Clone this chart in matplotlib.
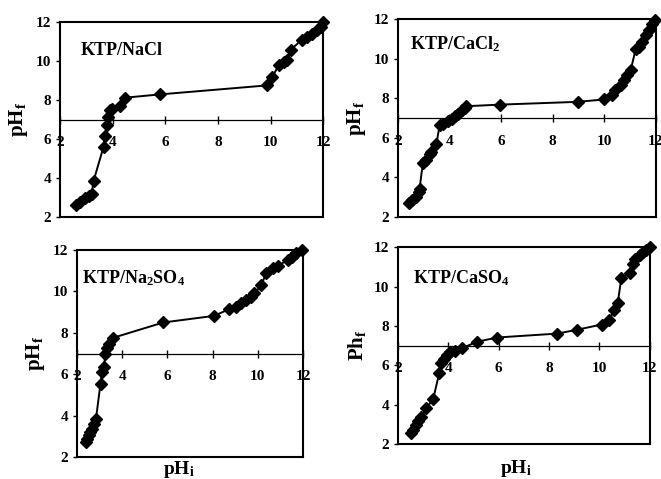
import numpy as np
import matplotlib.pyplot as plt

plt.rcParams['font.family'] = ['Liberation Serif', 'DejaVu Serif']
plt.rcParams['font.weight'] = 'bold'
plt.rcParams['mathtext.fontset'] = 'custom'
plt.rcParams['mathtext.rm'] = 'Liberation Serif:bold'
plt.rcParams['mathtext.it'] = 'Liberation Serif:bold:italic'
plt.rcParams['mathtext.bf'] = 'Liberation Serif:bold'

# KTP/NaCl
nacl_phi = [2.61, 2.76, 2.95, 3.08, 3.2, 3.27, 3.65, 3.69, 3.78, 3.81, 3.88, 3.97, 4.28, 4.47,
            5.81, 9.87, 10.06, 10.31, 10.5, 10.63, 10.76, 11.2, 11.39, 11.58, 11.77, 11.9, 12.0]
nacl_phf = [2.62, 2.76, 2.97, 3.1, 3.2, 3.85, 5.6, 6.14, 6.7, 7.13, 7.47, 7.56, 7.68, 8.12,
            8.29, 8.75, 9.18, 9.78, 9.95, 10.03, 10.58, 11.1, 11.23, 11.4, 11.57, 11.74, 12.0]

# KTP/CaCl2
cacl_phi = [2.43, 2.56, 2.69, 2.82, 2.84, 2.97, 3.1, 3.23, 3.3, 3.49, 3.62, 3.75, 3.95, 4.08,
            4.21, 4.34, 4.47, 4.6, 4.66, 5.96, 8.97, 9.99, 10.31, 10.44, 10.64, 10.77, 10.9,
            11.03, 11.22, 11.35, 11.48, 11.61, 11.74, 11.87, 11.96]
cacl_phf = [2.71, 2.88, 3.01, 3.26, 3.43, 4.75, 4.87, 5.17, 5.29, 5.68, 6.64, 6.72, 6.86, 6.97,
            7.11, 7.23, 7.4, 7.53, 7.6, 7.68, 7.82, 7.94, 8.16, 8.41, 8.66, 8.91, 9.17,
            9.42, 10.47, 10.6, 10.85, 11.19, 11.44, 11.78, 11.98]

# KTP/Na2SO4
naso_phi = [2.4, 2.44, 2.52, 2.59, 2.67, 2.74, 2.84, 3.04, 3.11, 3.19, 3.26, 3.33, 3.41, 3.6,
            5.82, 8.07, 8.74, 9.04, 9.26, 9.48, 9.7, 9.85, 10.15, 10.37, 10.67, 10.89, 11.33,
            11.53, 11.7, 11.95]
naso_phf = [2.73, 2.89, 3.05, 3.21, 3.37, 3.61, 3.85, 5.55, 6.11, 6.35, 7.0, 7.27, 7.48, 7.76,
            8.5, 8.82, 9.15, 9.26, 9.42, 9.58, 9.74, 9.9, 10.31, 10.87, 11.11, 11.24, 11.52,
            11.68, 11.84, 12.0]

# KTP/CaSO4
caso_phi = [2.53, 2.6, 2.71, 2.8, 2.93, 3.13, 3.4, 3.64, 3.73, 3.84, 3.93, 4.07, 4.27, 4.53,
            5.13, 5.93, 8.33, 9.13, 10.09, 10.4, 10.57, 10.73, 10.87, 11.2, 11.33, 11.43, 11.6,
            11.73, 11.87, 12.0]
caso_phf = [2.56, 2.73, 2.98, 3.18, 3.35, 3.83, 4.28, 5.6, 6.1, 6.32, 6.52, 6.65, 6.74, 6.86,
            7.19, 7.41, 7.61, 7.81, 8.07, 8.28, 8.79, 9.17, 10.43, 10.7, 11.16, 11.41, 11.58,
            11.75, 11.88, 12.0]

ticks = [2, 4, 6, 8, 10, 12]

panels = [
    # x, y, axes rect, title, title pos, ylabel, xlabel coords
    (nacl_phi, nacl_phf, [0.091, 0.547, 0.398, 0.407], 'KTP/NaCl', (0.076, 0.856), r'$\mathrm{pH_f}$', None),
    (cacl_phi, cacl_phf, [0.602, 0.547, 0.390, 0.413], r'KTP/CaCl$_\mathrm{2}$', (0.047, 0.874), r'$\mathrm{pH_f}$', None),
    (naso_phi, naso_phf, [0.1165, 0.046, 0.342, 0.432], r'KTP/Na$_\mathrm{2}$SO$_\mathrm{4}$', (0.022, 0.865), r'$\mathrm{pH_f}$', (0.45, -0.012)),
    (caso_phi, caso_phf, [0.602, 0.073, 0.381, 0.411], r'KTP/CaSO$_\mathrm{4}$', (0.06, 0.843), r'$\mathrm{Ph_f}$', (0.47, -0.07)),
]

fig = plt.figure(figsize=(6.61, 4.79), dpi=100)

for x, y, rect, title, tpos, ylab, xlab in panels:
    ax = fig.add_axes(rect)
    ax.plot(x, y, color='black', lw=1.4, marker='D', markersize=6.5, clip_on=False, zorder=3)
    ax.set_xlim(2, 12)
    ax.set_ylim(2, 12)
    ax.set_xticks(ticks)
    ax.set_yticks(ticks)
    # x axis crosses at pH 7
    ax.spines['bottom'].set_position(('data', 7))
    ax.spines['bottom'].set_linewidth(0.9)
    for s in ['left', 'top', 'right']:
        ax.spines[s].set_linewidth(1.5)
    ax.plot([0, 1], [0, 0], transform=ax.transAxes, color='black', lw=1.5, clip_on=False)
    ax.tick_params(axis='x', direction='inout', length=6, width=1, pad=9, labelsize=11)
    ax.tick_params(axis='y', direction='out', length=3, width=1, labelsize=11)
    ax.text(tpos[0], tpos[1], title, transform=ax.transAxes, fontsize=13, fontweight='bold',
            va='center', ha='left')
    ax.set_ylabel(ylab, fontsize=15, labelpad=4)
    if xlab is not None:
        ax.set_xlabel(r'$\mathrm{pH_i}$', fontsize=14)
        ax.xaxis.set_label_coords(xlab[0], xlab[1])

fig.savefig('out.png', dpi=100)
